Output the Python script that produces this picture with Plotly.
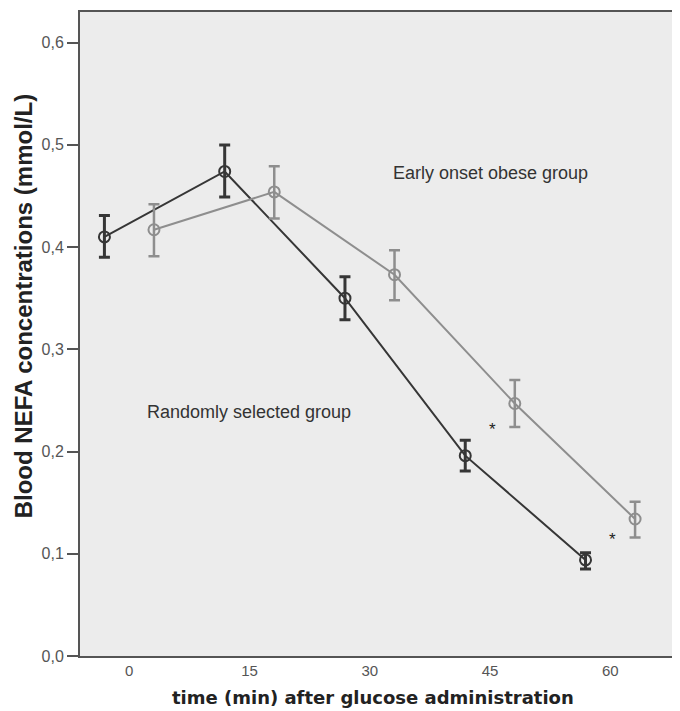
import plotly.graph_objects as go

time_labels = ["0", "15", "30", "45", "60"]

random_mean = [0.410, 0.474, 0.350, 0.196, 0.094]
random_upper = [0.431, 0.500, 0.371, 0.211, 0.101]
random_lower = [0.390, 0.449, 0.329, 0.181, 0.085]

obese_mean = [0.417, 0.454, 0.373, 0.247, 0.134]
obese_upper = [0.442, 0.479, 0.397, 0.270, 0.151]
obese_lower = [0.391, 0.428, 0.348, 0.224, 0.116]

y_ticks = [0.0, 0.1, 0.2, 0.3, 0.4, 0.5, 0.6]
y_tick_labels = ["0,0", "0,1", "0,2", "0,3", "0,4", "0,5", "0,6"]

# significance markers at 45 and 60 min
star_idx = [3, 4]
star_y = [0.222, 0.114]

OFFSET = 0.206
idx = list(range(len(time_labels)))

DARK = "#363636"
LIGHT = "#8e8e8e"

fig = go.Figure()


def add_series(means, upper, lower, shift, color, ew):
    xs = [i + shift for i in idx]
    fig.add_trace(go.Scatter(
        x=xs, y=means, mode="lines+markers",
        line=dict(color=color, width=2),
        marker=dict(symbol="circle-open", size=11, color=color, line=dict(width=2, color=color)),
        error_y=dict(type="data", symmetric=False,
                     array=[u - m for u, m in zip(upper, means)],
                     arrayminus=[m - l for m, l in zip(means, lower)],
                     color=color, thickness=ew, width=5.5),
        showlegend=False, hoverinfo="skip",
    ))


add_series(random_mean, random_upper, random_lower, -OFFSET, DARK, 3)
add_series(obese_mean, obese_upper, obese_lower, OFFSET, LIGHT, 2.5)

fig.add_annotation(x=3.003, y=0.4726, text="Early onset obese group", showarrow=False,
                   font=dict(family="Liberation Sans, Arial", size=18, color="#333333"))
fig.add_annotation(x=0.998, y=0.2388, text="Randomly selected group", showarrow=False,
                   font=dict(family="Liberation Sans, Arial", size=18, color="#333333"))
for i, y in zip(star_idx, star_y):
    fig.add_annotation(x=i + 0.02, y=y, text="*", showarrow=False,
                       font=dict(family="Liberation Sans, Arial", size=17, color="#222222"))

# axis titles
fig.add_annotation(xref="paper", yref="paper", x=0, y=0.543, xshift=-57,
                   xanchor="center", yanchor="middle", borderpad=0,
                   text="<b>Blood NEFA concentrations (mmol/L)</b>", textangle=-90,
                   showarrow=False,
                   font=dict(family="Liberation Sans, Arial", size=24, color="#222222"))
fig.add_annotation(xref="paper", yref="paper", x=0.482, y=0, yshift=-41,
                   xanchor="center", yanchor="middle",
                   text="<b>time (min) after glucose administration</b>", showarrow=False,
                   font=dict(family="DejaVu Sans", size=18, color="#222222"))

fig.update_layout(
    width=680, height=711,
    margin=dict(l=72, r=0, t=4, b=63),
    paper_bgcolor="white", plot_bgcolor="#ececec",
    xaxis=dict(range=[-0.409, 4.646], tickvals=idx, ticktext=time_labels,
               showgrid=False, zeroline=False, showline=True, linecolor="#555555",
               linewidth=2, mirror=True, ticks="",
               tickfont=dict(family="Liberation Sans, Arial", size=15, color="#555555")),
    yaxis=dict(range=[0, 0.630], tickvals=y_ticks, ticktext=y_tick_labels,
               showgrid=False, zeroline=False, showline=True, linecolor="#555555",
               linewidth=2, ticks="outside", ticklen=11, tickwidth=2, tickcolor="#555555",
               tickfont=dict(family="Liberation Sans, Arial", size=16, color="#555555")),
)

fig.write_html("out.html")
